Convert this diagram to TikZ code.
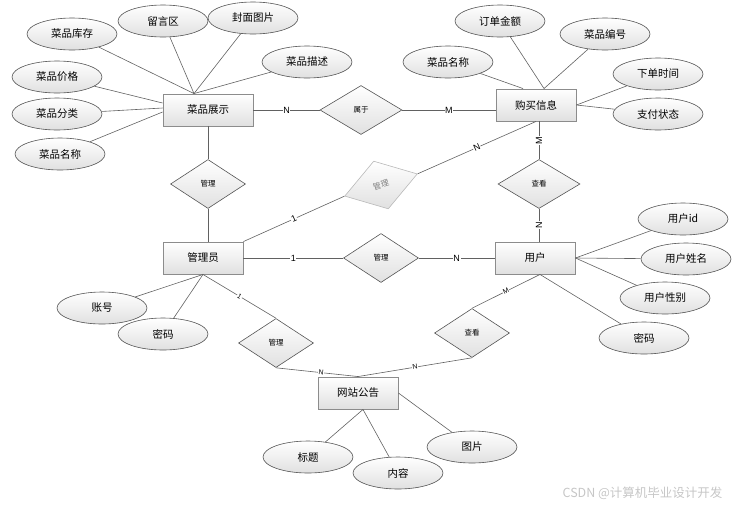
\documentclass[tikz,border=0pt]{standalone}
\usepackage{fontspec}
\setmainfont{Noto Sans CJK SC}
\newfontfamily\lblfont{Liberation Sans}
\usetikzlibrary{shapes.geometric,shadows}

\begin{document}
\begin{tikzpicture}[x=1pt,y=-1pt,
    ent/.style={draw=kBorder,line width=0.9pt,top color=white,bottom color=kFill,
      minimum width=80pt,minimum height=32pt,font=\fontsize{10.5}{12}\selectfont,
      drop shadow={shadow xshift=1pt,shadow yshift=-1pt,opacity=0.2}},
    attr/.style={ellipse,draw=kGrey,line width=0.6pt,top color=white,bottom color=kFill,
      minimum width=90pt,minimum height=32pt,font=\fontsize{10.5}{12}\selectfont},
    rel/.style={diamond,draw=kGrey,line width=0.6pt,top color=white,bottom color=kFill,
      minimum width=75pt,minimum height=49pt,inner sep=0pt,font=\fontsize{7.5}{8}\selectfont},
    link/.style={draw=kLine,line width=0.6pt},
    lab/.style={fill=white,inner sep=0.6pt,font=\lblfont\fontsize{9}{10}\selectfont},
    slab/.style={lab,font=\lblfont\fontsize{7}{8}\selectfont}]
  \definecolor{kGrey}{rgb}{0.33,0.33,0.33}
  \definecolor{kLine}{rgb}{0.38,0.38,0.38}
  \definecolor{kBorder}{rgb}{0.55,0.55,0.55}
  \definecolor{kFill}{rgb}{0.88,0.88,0.88}

  \useasboundingbox (0,0) rectangle (736,507);

  % entities
  \node[ent,minimum width=90pt] (cpzs) at (208,110) {菜品展示};
  \node[ent] (gmxx) at (536,105) {购买信息};
  \node[ent] (gly)  at (203,258) {管理员};
  \node[ent] (yh)   at (535,258) {用户};
  \node[ent] (wzgg) at (358,393) {网站公告};

  % relations
  \node[rel,minimum width=82pt] (sy)  at (361,110) {属于};
  \node[rel]                    (gl1) at (208,184) {管理};
  \node[rel,minimum width=82pt] (ck1) at (539,184) {查看};
  \node[rel]                    (gl2) at (381,258) {管理};
  \node[rel]                    (gl3) at (276,343) {管理};
  \node[rel]                    (ck2) at (472,333) {查看};
  \node[rel,draw=gray!55,text=gray,minimum width=76pt,minimum height=50pt,
        rotate=17,font=\fontsize{8}{9}\selectfont] (gl4) at (381,185) {管理};

  % anchor points on the entities
  \coordinate (cpzsT)  at ([xshift=-14pt]cpzs.north);
  \coordinate (cpzsW1) at ([yshift=7pt]cpzs.west);
  \coordinate (cpzsW2) at ([yshift=2pt]cpzs.west);
  \coordinate (cpzsW3) at ([yshift=-2pt]cpzs.west);
  \coordinate (gmxxTL) at ([xshift=-13pt]gmxx.north);
  \coordinate (gmxxT)  at ([xshift=8pt]gmxx.north);
  \coordinate (yhB)    at ([xshift=5pt]yh.south);
  \coordinate (wzggB)  at ([xshift=5pt]wzgg.south);

  % attributes
  %% dishes
  \foreach \n/\x/\y/\t/\e in {
      kc/72/34/菜品库存/cpzsT,
      lyq/163/21/留言区/cpzsT,
      fmtp/253/18/封面图片/cpzsT,
      cpms/307/62/菜品描述/cpzsT,
      jg/57/77/菜品价格/cpzsW1,
      fl/57/114/菜品分类/cpzsW2,
      mc/60/154/菜品名称/cpzsW3}
  {
    \node[attr] (\n) at (\x,\y) {\t};
    \draw[link] (\n) -- (\e);
  }

  %% orders
  \foreach \n/\x/\y/\t/\e in {
      ddje/500/21/订单金额/gmxxT,
      cpbh/605/34/菜品编号/gmxxT,
      gmc/448/62/菜品名称/gmxxTL,
      xdsj/658/74/下单时间/gmxx.east,
      zfzt/658/114/支付状态/gmxx.east}
  {
    \node[attr] (\n) at (\x,\y) {\t};
    \draw[link] (\n) -- (\e);
  }

  %% users
  \foreach \n/\x/\y/\t/\e in {
      yhid/683/219/用户id/yh.east,
      yhxm/686/259/用户姓名/yh.east,
      yhxb/665/298/用户性别/yh.east,
      yhmm/644/338/密码/yhB}
  {
    \node[attr] (\n) at (\x,\y) {\t};
    \draw[link] (\n) -- (\e);
  }

  %% admin
  \node[attr] (zh)  at (102,308) {账号};
  \node[attr] (gmm) at (163,334) {密码};
  \draw[link] (zh) -- (gly.south);
  \draw[link] (gmm) -- (gly.south);

  %% notices
  \node[attr] (bt) at (308,457) {标题};
  \node[attr] (nr) at (398,473) {内容};
  \node[attr] (tp) at (472,447) {图片};
  \draw[link] (bt) -- (wzggB);
  \draw[link] (nr) -- (wzggB);
  \draw[link] (tp) -- (wzgg.east);

  % relation links
  \draw[link] (cpzs) -- node[lab] {N} (sy);
  \draw[link] (sy.east) -- node[lab] {M} (sy.east -| gmxx.west);
  \draw[link] (gmxx.south -| ck1.north) -- node[lab,rotate=90] {M} (ck1.north);
  \draw[link] (ck1.south) -- node[lab,rotate=90] {N} (ck1.south |- yh.north);
  \draw[link] (cpzs.south) -- (gl1.north);
  \draw[link] (gl1.south) -- (gl1.south |- gly.north);
  \draw[link] (gly.north east) -- node[lab,sloped] {1} (gl4.west);
  \draw[link] (gl4.east) -- node[lab,sloped] {N} (gmxx.south);
  \draw[link] (gly) -- node[lab] {1} (gl2);
  \draw[link] (gl2) -- node[lab] {N} (yh);
  \draw[link] (gly.south) -- node[slab,sloped] {1} (gl3.north);
  \draw[link] (gl3.south) -- node[slab,sloped,pos=0.55] {N} (wzgg.north);
  \draw[link] (ck2.south) -- node[slab,sloped] {N} (wzgg.north);
  \draw[link] (yhB) -- node[slab,sloped] {M} (ck2.north);

  % watermark
  \node[text=gray!45,font=\fontsize{12.5}{14}\selectfont,anchor=east] (wm) at (726,493) {CSDN @计算机毕业设计开发};
\end{tikzpicture}
\end{document}
